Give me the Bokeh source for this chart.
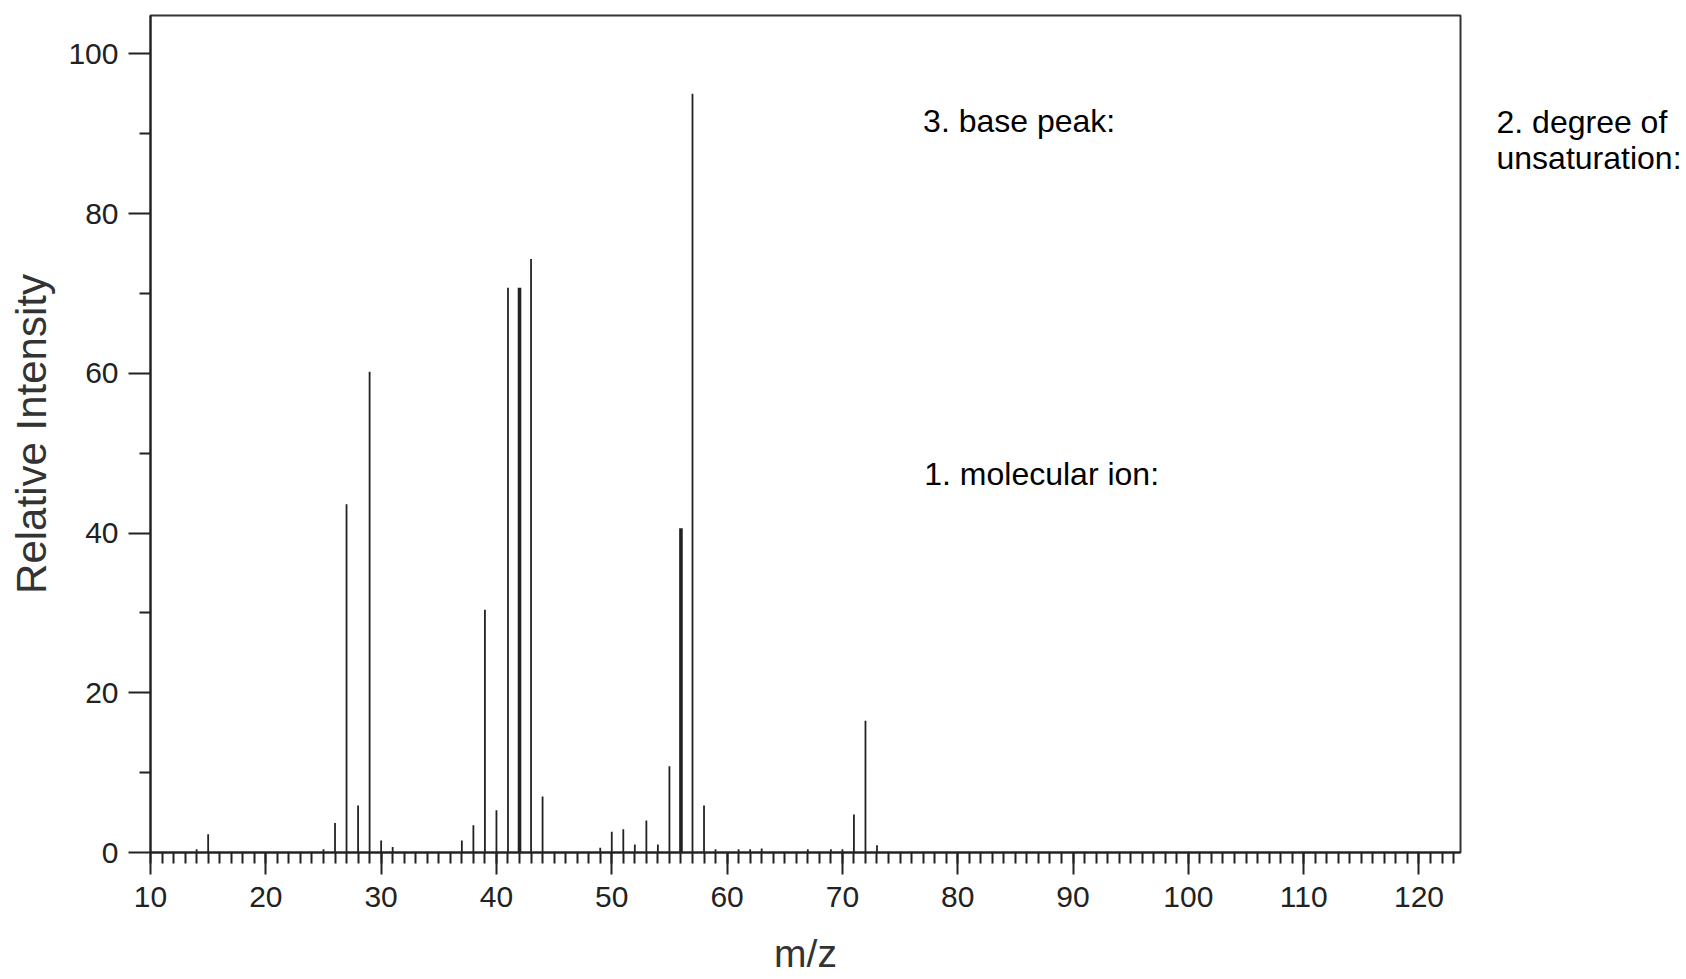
from bokeh.plotting import figure
from bokeh.models import Range1d, FixedTicker, LinearAxis, Label, ColumnDataSource
from bokeh.embed import file_html
from bokeh.resources import INLINE

# ---- data ----
mz = [14, 15, 25, 26, 27, 28, 29, 30, 31, 37, 38, 39, 40, 41, 42, 43, 44,
      49, 50, 51, 52, 53, 54, 55, 56, 57, 58, 59, 61, 62, 63, 67, 69, 70,
      71, 72, 73]
intensity = [0.4, 2.3, 0.4, 3.7, 43.6, 5.9, 60.2, 1.5, 0.7, 1.5, 3.4, 30.4,
             5.3, 70.7, 70.7, 74.3, 7.0, 0.6, 2.6, 2.9, 1.0, 4.0, 1.0, 10.8,
             40.6, 95.0, 5.9, 0.4, 0.4, 0.4, 0.5, 0.4, 0.4, 0.4, 4.75, 16.5,
             0.9]

x_major_ticks = [10, 20, 30, 40, 50, 60, 70, 80, 90, 100, 110, 120]
x_mid_ticks = [15, 25, 35, 45, 55, 65, 75, 85, 95, 105, 115]
x_minor_ticks = list(range(10, 124))
y_major_ticks = [0, 20, 40, 60, 80, 100]
y_minor_ticks = [10, 30, 50, 70, 90]

x_title = "m/z"
y_title = "Relative Intensity"
note_base = "3. base peak:"
note_ion = "1. molecular ion:"
note_unsat = ["2. degree of", "unsaturation:"]

# ---- styling / layout ----
FONT = "Liberation Sans"
INK = "#222222"
bold_peaks = (42, 56)

p = figure(width=1684, height=977,
           x_range=Range1d(10, 123.6), y_range=Range1d(0, 104.8),
           output_backend="svg", toolbar_location=None,
           min_border_left=150, min_border_right=220,
           min_border_top=15, min_border_bottom=124,
           background_fill_color="white", border_fill_color="white")
p.grid.visible = False
p.outline_line_color = "#333333"
p.outline_line_width = 2
p.outline_line_alpha = 1.0

widths = [3.6 if m in bold_peaks else 1.8 for m in mz]
src = ColumnDataSource(dict(mz=mz, intensity=intensity, w=widths))
p.segment(x0="mz", y0=0, x1="mz", y1="intensity", line_width="w",
          line_color=INK, source=src)

# x axis
xa = p.xaxis[0]
xa.ticker = FixedTicker(ticks=x_major_ticks, minor_ticks=x_minor_ticks)
xa.major_tick_out = 22
xa.major_tick_in = 0
xa.minor_tick_out = 11
xa.minor_tick_in = 0
xa.major_tick_line_width = 2
xa.minor_tick_line_width = 2
xa.major_tick_line_color = INK
xa.minor_tick_line_color = INK
xa.axis_line_width = 2
xa.axis_line_color = INK
xa.major_label_text_font = FONT
xa.major_label_text_font_size = "30px"
xa.major_label_text_color = INK
xa.major_label_standoff = 12
xa.axis_label = x_title
xa.axis_label_text_font = FONT
xa.axis_label_text_font_size = "39px"
xa.axis_label_text_font_style = "normal"
xa.axis_label_text_color = "#333333"
xa.axis_label_standoff = 22

mid = LinearAxis(ticker=FixedTicker(ticks=x_mid_ticks, minor_ticks=[]),
                 fixed_location=0, axis_line_color=None,
                 major_tick_out=16, major_tick_in=0,
                 major_tick_line_width=2, major_tick_line_color=INK,
                 minor_tick_line_color=None, major_label_text_color=None)
p.add_layout(mid, "below")

# y axis
ya = p.yaxis[0]
ya.ticker = FixedTicker(ticks=y_major_ticks, minor_ticks=y_minor_ticks)
ya.major_tick_out = 22
ya.major_tick_in = 0
ya.minor_tick_out = 11
ya.minor_tick_in = 0
ya.major_tick_line_width = 2
ya.minor_tick_line_width = 2
ya.major_tick_line_color = INK
ya.minor_tick_line_color = INK
ya.axis_line_width = 2
ya.axis_line_color = INK
ya.major_label_text_font = FONT
ya.major_label_text_font_size = "30px"
ya.major_label_text_color = INK
ya.major_label_standoff = 10
ya.axis_label = y_title
ya.axis_label_text_font = FONT
ya.axis_label_text_font_size = "42px"
ya.axis_label_text_font_style = "normal"
ya.axis_label_text_color = "#333333"
ya.axis_label_standoff = 10

# note outside the frame on the right, written as right-side axis labels
note_pos = [91.5, 87.0]
ra = LinearAxis(ticker=FixedTicker(ticks=note_pos, minor_ticks=[]),
                major_label_overrides={v: t for v, t in zip(note_pos, note_unsat)},
                axis_line_color=None, major_tick_line_color=None,
                minor_tick_line_color=None, major_tick_out=0, major_tick_in=0,
                minor_tick_out=0, minor_tick_in=0,
                major_label_standoff=36, major_label_text_font=FONT,
                major_label_text_font_size="32px",
                major_label_text_color="black")
p.add_layout(ra, "right")

for txt, x, y in [(note_base, 77.0, 91.65), (note_ion, 77.1, 47.35)]:
    p.add_layout(Label(x=x, y=y, text=txt, text_align="left",
                       text_baseline="alphabetic", text_font=FONT,
                       text_font_size="32px", text_color="black"))

open("out.html", "w").write(file_html(p, INLINE))
